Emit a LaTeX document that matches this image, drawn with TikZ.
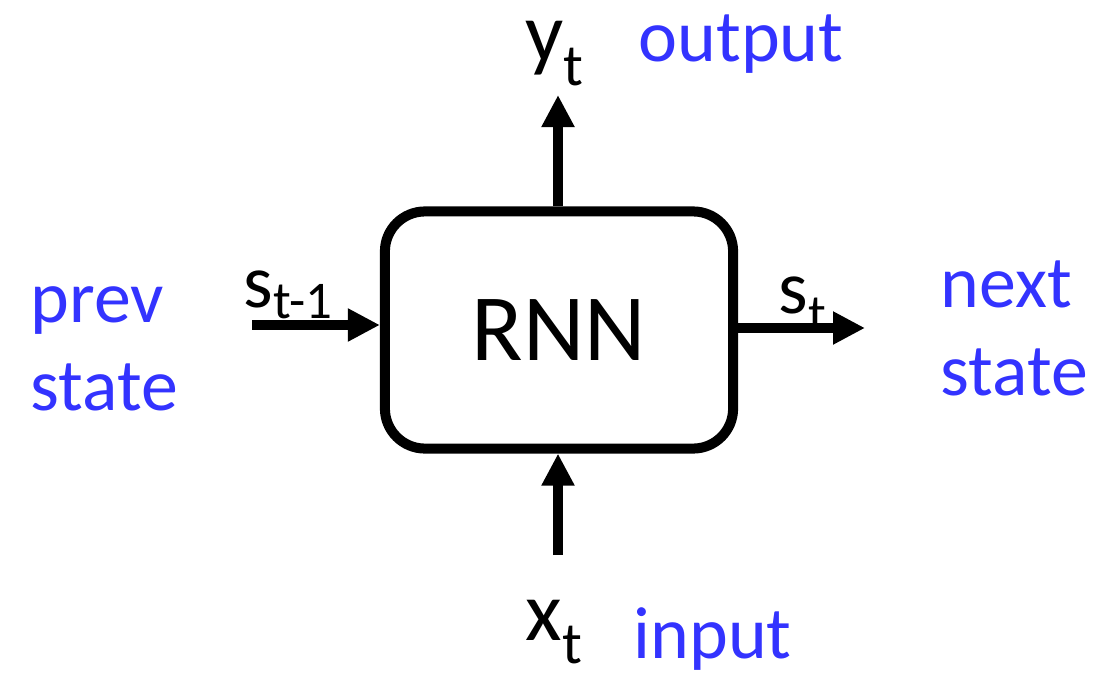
\documentclass[tikz,border=0pt]{standalone}
\usepackage{fontspec}
\setmainfont{Carlito}
\usetikzlibrary{arrows.meta}
\definecolor{labelblue}{RGB}{51,51,255}
\newcommand{\lowsub}[2][-0.28em]{\raisebox{#1}[0pt][0pt]{\scalebox{0.7}{#2}}}

\begin{document}
\begin{tikzpicture}[x=0.01cm,y=-0.01cm,
  flow/.style={line width=0.1cm,-{Triangle[length=0.32cm,width=0.31cm]}},
  note/.style={text=labelblue,font=\fontsize{21}{25}\selectfont,inner sep=0pt},
  sym/.style={font=\fontsize{24}{28}\selectfont,inner sep=0pt},
  state/.style={font=\fontsize{21.5}{24}\selectfont,inner sep=0pt}]
  \useasboundingbox (0,0) rectangle (1095,673);
  % the cell
  \node[draw,line width=0.1cm,rounded corners=0.4cm,minimum width=3.48cm,
    minimum height=2.37cm,font=\fontsize{27}{30}\selectfont] (rnn) at (559,330) {RNN};
  % signals
  \node[sym,anchor=base west] (ylab) at (525,62) {y\lowsub{t}};
  \node[note,anchor=base west] (outlab) at (638,62) {output};
  \node[sym,anchor=base west] (xlab) at (525,640) {x\lowsub{t}};
  \node[note,anchor=base west] (inlab) at (633,658) {input};
  \node[state,anchor=base west] (sprev) at (243,307) {s\lowsub[-0.15em]{t-1}};
  \node[state,anchor=base west] (snext) at (778,313) {s\lowsub[-0.25em]{t}};
  \node[note,anchor=base west,align=left] (prevlab) at (30,410) {prev\\state};
  \node[note,anchor=base west,align=left] (nextlab) at (940,395) {next\\state};
  % connectors
  \coordinate (ytip) at (558,95);
  \coordinate (xfoot) at (558,555);
  \coordinate (sin) at (252,325);
  \coordinate (sout) at (865,328);
  \draw[flow] (rnn.north -| ytip) -- (ytip);
  \draw[flow] (xfoot) -- (xfoot |- rnn.south);
  \draw[flow] (sin) -- (sin -| rnn.west);
  \draw[flow] (rnn.east |- sout) -- (sout);
\end{tikzpicture}
\end{document}
